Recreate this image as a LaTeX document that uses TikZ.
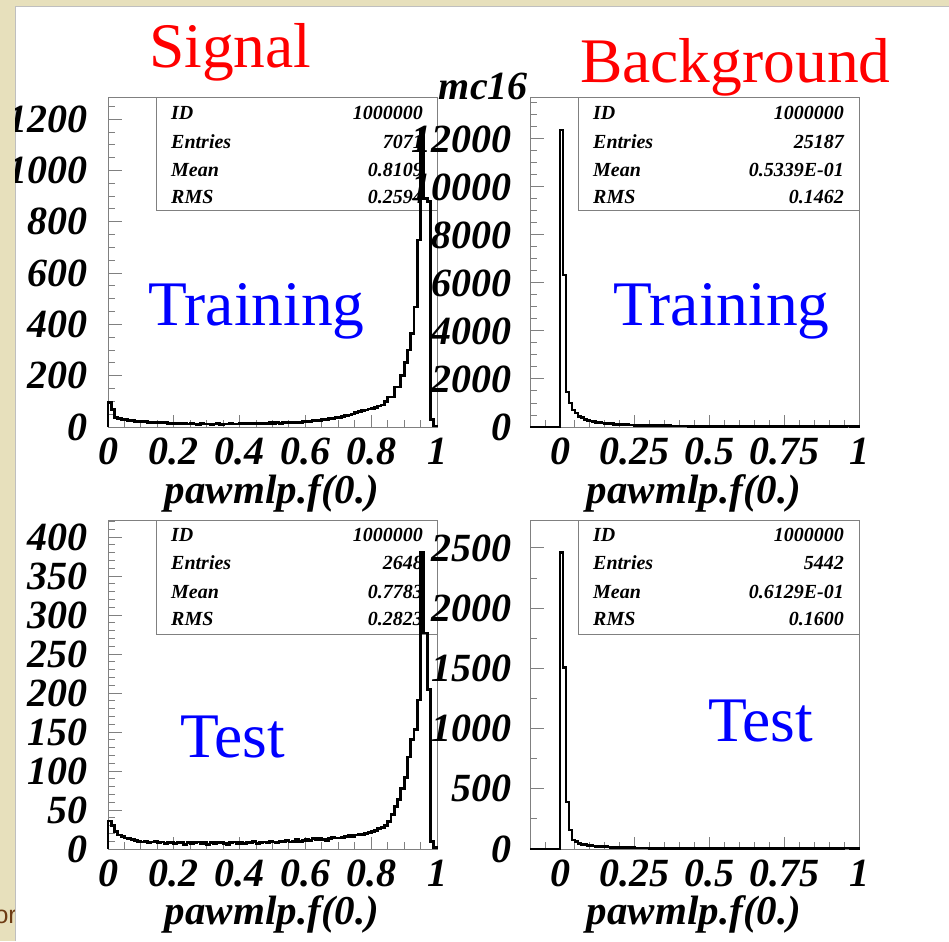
\documentclass[tikz,border=0pt]{standalone}
\usepackage{fontspec}
\usepackage{xcolor}
\setmainfont{Liberation Serif}
\newfontfamily\slidefont{Liberation Sans}
\usetikzlibrary{calc, positioning}

% bin contents, 0.01 wide bins from 0 to 1
\def\sigtrain{95,68,38,34,30,28,26,25,23,22,
  21,20,19,18,18,17,16,16,15,15,
  14,15,13,14,12,13,12,11,13,12,
  12,11,12,13,11,12,12,13,12,12,
  13,14,12,14,13,15,14,15,14,16,
  15,16,15,17,16,18,17,19,18,20,
  21,22,24,25,26,28,30,32,34,36,
  38,41,44,47,51,55,59,63,66,70,
  73,77,82,86,100,117,117,156,156,200,
  253,300,366,468,729,1160,893,880,30,4}
\def\sigtest{36,30,22,18,16,14,13,12,11,10,
  9,10,8,9,10,8,9,7,8,9,
  7,8,9,6,8,7,8,9,7,8,
  6,8,7,9,8,7,6,8,9,7,
  8,7,9,8,10,7,8,9,8,10,
  9,8,10,9,11,9,10,12,10,11,
  12,11,13,12,14,12,11,13,15,14,
  14,15,16,17,16,18,19,18,20,21,
  22,24,26,28,30,35,44,54,63,78,
  92,118,140,153,191,380,277,204,10,2}
\def\bgtrain{12375,6333,1458,1000,708,580,450,380,320,280,
  250,220,200,180,170,150,140,130,120,110,
  100,95,90,85,80,75,70,68,65,62,
  60,58,55,53,50,48,46,45,43,42,
  40,39,38,37,36,35,34,33,32,31,
  30,30,29,28,28,27,27,26,26,25,
  25,24,24,23,23,22,22,22,21,21,
  21,20,20,20,20,19,19,19,19,19,
  19,19,20,20,20,21,21,22,22,23,
  24,25,27,29,32,36,40,35,25,15}
\def\bgtest{2460,1510,390,158,75,60,48,40,35,30,
  27,25,22,20,19,18,16,15,14,13,
  12,12,11,10,10,9,9,8,8,8,
  7,7,7,6,6,6,6,5,5,5,
  5,5,5,5,4,4,4,4,4,4,
  4,4,4,4,4,4,4,4,4,4,
  4,4,4,4,4,4,4,4,4,4,
  4,4,4,4,4,4,4,4,4,4,
  4,4,4,5,5,5,5,5,5,5,
  6,6,6,7,7,8,8,7,5,3}

\begin{document}
\begin{tikzpicture}[x=1pt, y=-1pt]
    \tikzset{
      frame/.style={
        draw, line width=1pt,
        draw={rgb,255:red,128;green,128;blue,128},
      },
      statbox/.style={
        frame, fill=white,
      },
      hist/.style={
        draw=black, line width=2.8pt, line join=miter,
      },
      ticklbl/.style={
        inner sep=0pt, font=\fontsize{40}{40}\selectfont\bfseries\itshape,
      },
      stattxt/.style={
        inner sep=0pt, font=\fontsize{20}{20}\selectfont\bfseries\itshape,
      },
      axtitle/.style={
        inner sep=0pt, anchor=base, font=\fontsize{41}{41}\selectfont\bfseries\itshape,
      },
      caption/.style={
        inner sep=0pt, anchor=base west, font=\fontsize{63.5}{63.5}\selectfont,
      },
    }

    \useasboundingbox (0,0) rectangle (949,941);
    \fill[fill={rgb,255:red,231;green,224;blue,188}] (0,0) rectangle (949,941);
    \node[inner sep=0pt, anchor=base east, font=\slidefont\fontsize{25}{25}\selectfont,
      text={rgb,255:red,110;green,60;blue,20}] (slideword) at (17,923) {or};
    \fill[white] (15,6) rectangle (949,941);
    \draw[gray!50] (15,941) -- (15,6) -- (949,6);

    \begin{scope}
    \clip (15,6) rectangle (949,941);

    % signal, training
    \draw[frame] (108,98) rectangle (437,427);
    \draw[statbox] (156,98) rectangle (437,211);
    \node[stattxt, anchor=west] (stId) at (171,113) {ID};
    \node[stattxt, anchor=east] (stIdV) at (423,113) {1000000};
    \node[stattxt, anchor=west] (stEnt) at (171,142) {Entries};
    \node[stattxt, anchor=east] (stEntV) at (423,142) {7071};
    \node[stattxt, anchor=west] (stMean) at (171,170) {Mean};
    \node[stattxt, anchor=east] (stMeanV) at (423,170) {0.8109};
    \node[stattxt, anchor=west] (stRms) at (171,197) {RMS};
    \node[stattxt, anchor=east] (stRmsV) at (423,197) {0.2594};
    \begin{scope}[shift={(108,427)}, x=329pt, y=0.2565pt]
      \foreach \yv in {50,100,...,1250} \draw[frame] (0,\yv) -- ++(7pt,0);
      \foreach \yv in {0,200,...,1200} {
        \draw[frame] (0,\yv) -- ++(14pt,0);
        \node[ticklbl, anchor=east, xshift=-20pt] (stY\yv) at (0,\yv) {\yv};
      }
      \foreach \xv in {0.05,0.1,...,0.96} \draw[frame] (\xv,0) -- ++(0,7pt);
      \foreach \xv [count=\i] in {0,0.2,0.4,0.6,0.8,1} {
        \draw[frame] (\xv,0) -- ++(0,12pt);
        \node[ticklbl, anchor=north, yshift=-11pt] (stX\i) at (\xv,0) {\xv};
      }
      \draw[hist] (0,0) \foreach \bin [count=\k from 0] in \sigtrain
        { -- (\k/100,\bin) -- ({(\k+1)/100},\bin) } -- (1,0);
    \end{scope}
    \node[axtitle] (stTitle) at (272,503) {pawmlp.f(0.)};

    % signal, test
    \draw[frame] (108,520) rectangle (437,849);
    \draw[statbox] (156,520) rectangle (437,634);
    \node[stattxt, anchor=west] (ssId) at (171,535) {ID};
    \node[stattxt, anchor=east] (ssIdV) at (423,535) {1000000};
    \node[stattxt, anchor=west] (ssEnt) at (171,563) {Entries};
    \node[stattxt, anchor=east] (ssEntV) at (423,563) {2648};
    \node[stattxt, anchor=west] (ssMean) at (171,592) {Mean};
    \node[stattxt, anchor=east] (ssMeanV) at (423,592) {0.7783};
    \node[stattxt, anchor=west] (ssRms) at (171,619) {RMS};
    \node[stattxt, anchor=east] (ssRmsV) at (423,619) {0.2823};
    \begin{scope}[shift={(108,849)}, x=329pt, y=0.78pt]
      \foreach \yv in {10,20,...,420} \draw[frame] (0,\yv) -- ++(7pt,0);
      \foreach \yv in {0,50,...,400} {
        \draw[frame] (0,\yv) -- ++(14pt,0);
        \node[ticklbl, anchor=east, xshift=-20pt] (ssY\yv) at (0,\yv) {\yv};
      }
      \foreach \xv in {0.05,0.1,...,0.96} \draw[frame] (\xv,0) -- ++(0,7pt);
      \foreach \xv [count=\i] in {0,0.2,0.4,0.6,0.8,1} {
        \draw[frame] (\xv,0) -- ++(0,12pt);
        \node[ticklbl, anchor=north, yshift=-11pt] (ssX\i) at (\xv,0) {\xv};
      }
      \draw[hist] (0,0) \foreach \bin [count=\k from 0] in \sigtest
        { -- (\k/100,\bin) -- ({(\k+1)/100},\bin) } -- (1,0);
    \end{scope}
    \node[axtitle] (ssTitle) at (272,924) {pawmlp.f(0.)};

    % background, training
    \draw[frame] (530,98) rectangle (859,427);
    \draw[statbox] (578,98) rectangle (859,211);
    \node[stattxt, anchor=west] (btId) at (593,113) {ID};
    \node[stattxt, anchor=east] (btIdV) at (844,113) {1000000};
    \node[stattxt, anchor=west] (btEnt) at (593,142) {Entries};
    \node[stattxt, anchor=east] (btEntV) at (844,142) {25187};
    \node[stattxt, anchor=west] (btMean) at (593,170) {Mean};
    \node[stattxt, anchor=east] (btMeanV) at (844,170) {0.5339E-01};
    \node[stattxt, anchor=west] (btRms) at (593,197) {RMS};
    \node[stattxt, anchor=east] (btRmsV) at (844,197) {0.1462};
    \begin{scope}[shift={(560,427)}, x=299pt, y=0.024pt]
      \foreach \yv in {500,1000,...,13500} \draw[frame] (-0.1,\yv) -- ++(7pt,0);
      \foreach \yv in {0,2000,...,12000} {
        \draw[frame] (-0.1,\yv) -- ++(14pt,0);
        \node[ticklbl, anchor=east, xshift=-18pt] (btY\yv) at (-0.1,\yv) {\yv};
      }
      \foreach \xv in {-0.05,0,...,0.96} \draw[frame] (\xv,0) -- ++(0,7pt);
      \foreach \xv [count=\i] in {0,0.25,0.5,0.75,1} {
        \draw[frame] (\xv,0) -- ++(0,12pt);
        \node[ticklbl, anchor=north, yshift=-11pt] (btX\i) at (\xv,0) {\xv};
      }
      \draw[hist] (-0.1,0) -- (0,0) \foreach \bin [count=\k from 0] in \bgtrain
        { -- (\k/100,\bin) -- ({(\k+1)/100},\bin) } -- (1,0);
    \end{scope}
    \node[axtitle] (btTitle) at (694,503) {pawmlp.f(0.)};

    % background, test
    \draw[frame] (530,520) rectangle (859,849);
    \draw[statbox] (578,520) rectangle (859,634);
    \node[stattxt, anchor=west] (bsId) at (593,535) {ID};
    \node[stattxt, anchor=east] (bsIdV) at (844,535) {1000000};
    \node[stattxt, anchor=west] (bsEnt) at (593,563) {Entries};
    \node[stattxt, anchor=east] (bsEntV) at (844,563) {5442};
    \node[stattxt, anchor=west] (bsMean) at (593,592) {Mean};
    \node[stattxt, anchor=east] (bsMeanV) at (844,592) {0.6129E-01};
    \node[stattxt, anchor=west] (bsRms) at (593,619) {RMS};
    \node[stattxt, anchor=east] (bsRmsV) at (844,619) {0.1600};
    \begin{scope}[shift={(560,849)}, x=299pt, y=0.1204pt]
      \foreach \yv in {250,750,...,2250} \draw[frame] (-0.1,\yv) -- ++(7pt,0);
      \foreach \yv in {0,500,...,2500} {
        \draw[frame] (-0.1,\yv) -- ++(14pt,0);
        \node[ticklbl, anchor=east, xshift=-18pt] (bsY\yv) at (-0.1,\yv) {\yv};
      }
      \foreach \xv in {-0.05,0,...,0.96} \draw[frame] (\xv,0) -- ++(0,7pt);
      \foreach \xv [count=\i] in {0,0.25,0.5,0.75,1} {
        \draw[frame] (\xv,0) -- ++(0,12pt);
        \node[ticklbl, anchor=north, yshift=-11pt] (bsX\i) at (\xv,0) {\xv};
      }
      \draw[hist] (-0.1,0) -- (0,0) \foreach \bin [count=\k from 0] in \bgtest
        { -- (\k/100,\bin) -- ({(\k+1)/100},\bin) } -- (1,0);
    \end{scope}
    \node[axtitle] (bsTitle) at (694,924) {pawmlp.f(0.)};

    \node[ticklbl, anchor=base east] (run) at (528,100) {mc16};

    % captions
    \node[caption, text=red] (signal) at (149,68) {Signal};
    \node[caption, text=red] (background) at (580,83) {Background};
    \node[caption, text=blue] (sigTraining) at (148,325) {Training};
    \node[caption, text=blue] (bgTraining) at (613,325) {Training};
    \node[caption, text=blue] (sigTest) at (180,757) {Test};
    \node[caption, text=blue] (bgTest) at (708,741) {Test};
    \end{scope}
\end{tikzpicture}
\end{document}
